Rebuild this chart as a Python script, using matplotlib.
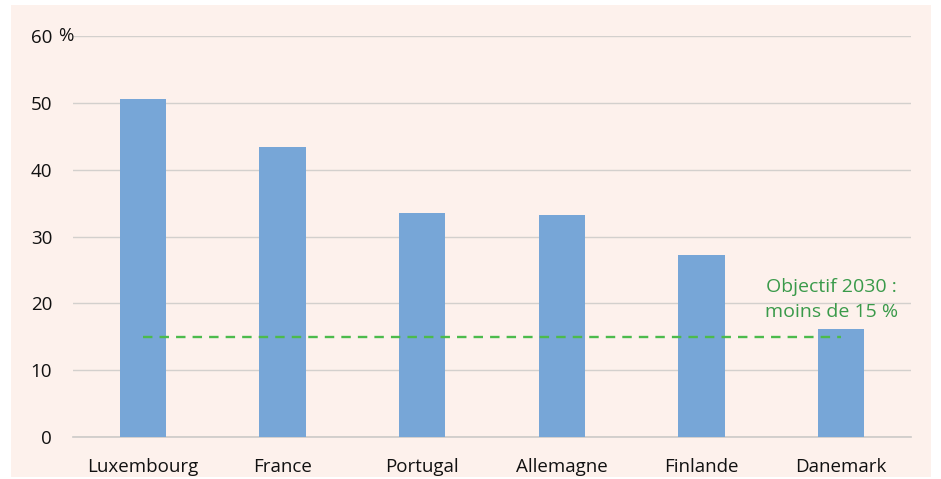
import matplotlib.pyplot as plt
from matplotlib.patches import Rectangle

# --- Data ---
countries = ["Luxembourg", "France", "Portugal", "Allemagne", "Finlande", "Danemark"]
values = [50.5, 43.4, 33.5, 33.2, 27.2, 16.2]
target = 15
yticks = [0, 10, 20, 30, 40, 50, 60]

plt.rcParams["font.family"] = ["Open Sans", "DejaVu Sans"]

fig = plt.figure(figsize=(9.41, 4.79), dpi=100)
fig.patch.set_facecolor("white")
# background panel
bg = Rectangle((11 / 941, 2 / 479), 920 / 941, 472 / 479,
               transform=fig.transFigure, facecolor="#fdf1ec",
               edgecolor="none", zorder=-10)
fig.add_artist(bg)

ax = fig.add_axes([73 / 941, 42 / 479, 838 / 941, 401 / 479])
ax.set_facecolor("none")
ax.set_zorder(1)

x = range(len(countries))
ax.bar(x, values, width=0.33, color="#77a6d7", zorder=3)
ax.plot([0, len(countries) - 1], [target, target], color="#4cbb4c",
        linestyle=(0, (4, 3)), linewidth=1.7, zorder=4)

ax.set_xlim(-0.5, len(countries) - 0.5)
ax.set_ylim(0, 60)
ax.set_yticks(yticks)
ax.set_yticklabels([str(v) for v in yticks], fontsize=13.5)
ax.set_xticks(list(x))
ax.set_xticklabels(countries, fontsize=13.5)
ax.tick_params(axis="both", length=0, colors="#111111")
ax.tick_params(axis="y", pad=15)
ax.tick_params(axis="x", pad=15)

ax.grid(axis="y", color="#d3d0cd", linewidth=1, zorder=1)
for s in ["top", "right", "left"]:
    ax.spines[s].set_visible(False)
ax.spines["bottom"].set_color("#cccac8")
ax.spines["bottom"].set_linewidth(1.2)

ax.text(-0.018, 60, "%", transform=ax.get_yaxis_transform(), fontsize=13.5,
        ha="left", va="center", color="#111111")

ax.text(4.93, 20.5, "Objectif 2030 :\nmoins de 15 %", ha="center", va="center",
        fontsize=14, color="#3a9a4a", linespacing=1.5)

fig.savefig("out.png", dpi=100)
